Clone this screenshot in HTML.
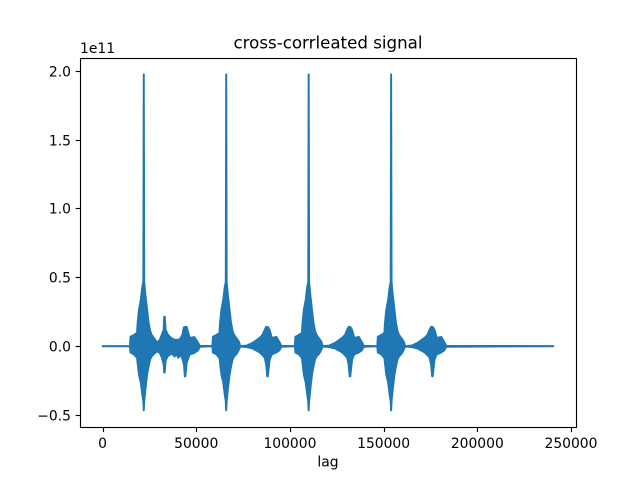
<!DOCTYPE html>
<html>
<head>
<meta charset="utf-8">
<title>cross-corrleated signal</title>
<style>
html,body{margin:0;padding:0;background:#fff;width:640px;height:480px;overflow:hidden}
svg{display:block}
text{font-family:"DejaVu Sans","Liberation Sans",sans-serif;fill:#000}
</style>
</head>
<body>
<svg id="chart" xmlns="http://www.w3.org/2000/svg" width="640" height="480" viewBox="0 0 640 480">
<rect x="0" y="0" width="640" height="480" fill="#fff"/>
<g id="series"></g>
<g id="ticks"></g>
<rect x="80.5" y="58.5" width="496" height="369" fill="none" stroke="#000" stroke-width="1.11"/>
<text x="328" y="48.5" font-size="16.67" text-anchor="middle">cross-corrleated signal</text>
<text x="328" y="466.5" font-size="13.89" text-anchor="middle">lag</text>
<text x="80" y="52.8" font-size="13.89">1e11</text>
</svg>
<script>
const lags = [
  0,
  14500,14800,16700,18300,18600,19300,20300,21100,21650,21870,22130,22350,23000,23900,24700,25500,26300,27800,28900,29500,
  30500,31500,32500,32800,33300,33800,35000,37000,38500,39500,40500,41500,42500,43300,43800,44300,45000,45900,46500,49000,51000,51900,
  58500,58800,60700,62300,62600,63300,64300,65100,65650,65870,66130,66350,67000,67900,68700,69500,70300,71800,72900,73500,
  74000,77000,80000,83800,85300,86400,87200,87800,88300,89300,90400,92800,94400,95500,
  102500,102800,104700,106300,106600,107300,108300,109100,109650,109870,110130,110350,111000,111900,112700,113500,114300,115800,116900,117500,
  118000,121000,124000,127800,129300,130400,131200,131800,132300,133300,134400,136800,138400,139500,
  146500,146800,148700,150300,150600,151300,152300,153100,153650,153870,154130,154350,155000,155900,156700,157500,158300,159800,160900,161500,
  162000,165000,168000,171800,173300,174400,175200,175800,176300,177300,178400,180800,182400,183500,
  240640
];
const upperValues = [
  .004,
  .004,.071,.085,.10,.172,.266,.338,.432,.469,1.977,1.977,.469,.375,.266,.172,.114,.085,.056,.035,.035,
  .05,.085,.121,.218,.218,.12,.085,.06,.05,.05,.05,.06,.085,.14,.143,.143,.143,.10,.064,.07,.03,.006,
  .004,.071,.085,.10,.172,.266,.338,.432,.469,1.977,1.977,.469,.375,.266,.172,.114,.085,.056,.035,.006,
  .004,.008,.027,.064,.085,.121,.143,.143,.143,.121,.064,.071,.035,.006,
  .004,.071,.085,.10,.172,.266,.338,.432,.469,1.977,1.977,.469,.375,.266,.172,.114,.085,.056,.035,.006,
  .004,.008,.027,.064,.085,.121,.143,.143,.143,.121,.064,.071,.035,.006,
  .004,.071,.085,.10,.172,.266,.338,.432,.469,1.977,1.977,.469,.375,.266,.172,.114,.085,.056,.035,.006,
  .004,.008,.027,.064,.085,.121,.143,.143,.143,.121,.064,.071,.035,.006,
  .004
];
const lowerValues = [
  0,
  0,-.045,-.059,-.085,-.12,-.204,-.262,-.349,-.399,-.465,-.465,-.399,-.312,-.204,-.146,-.095,-.074,-.052,-.04,-.04,
  -.05,-.08,-.13,-.19,-.19,-.10,-.07,-.055,-.075,-.06,-.085,-.06,-.09,-.13,-.218,-.218,-.12,-.085,-.06,-.05,-.03,-.004,
  0,-.045,-.059,-.085,-.12,-.204,-.262,-.349,-.399,-.465,-.465,-.399,-.312,-.204,-.146,-.095,-.074,-.052,-.023,-.004,
  -.002,-.006,-.016,-.045,-.065,-.081,-.13,-.218,-.218,-.095,-.059,-.045,-.03,-.004,
  0,-.045,-.059,-.085,-.12,-.204,-.262,-.349,-.399,-.465,-.465,-.399,-.312,-.204,-.146,-.095,-.074,-.052,-.023,-.004,
  -.002,-.006,-.016,-.045,-.065,-.081,-.13,-.218,-.218,-.095,-.059,-.045,-.03,-.004,
  0,-.045,-.059,-.085,-.12,-.204,-.262,-.349,-.399,-.465,-.465,-.399,-.312,-.204,-.146,-.095,-.074,-.052,-.023,-.004,
  -.002,-.006,-.016,-.045,-.065,-.081,-.13,-.218,-.218,-.095,-.059,-.045,-.03,-.004,
  0
];
const xTickValues = [0,50000,100000,150000,200000,250000];
const yTickValues = [-0.5,0,0.5,1,1.5,2];
const yTickLabels = ["\u22120.5","0.0","0.5","1.0","1.5","2.0"];

const NS = "http://www.w3.org/2000/svg";
const axLeft = 80, axRight = 576, axTop = 57.6, axBottom = 427.2;
const xMin = -12032, xMax = 252672, yMin = -0.5868, yMax = 2.099;
function xScale(v){ return axLeft + (v - xMin) / (xMax - xMin) * (axRight - axLeft); }
function yScale(v){ return axBottom - (v - yMin) / (yMax - yMin) * (axBottom - axTop); }

const seriesLayer = document.getElementById("series");
const tickLayer = document.getElementById("ticks");

const pts = [];
lags.forEach((l,i)=>pts.push(xScale(l).toFixed(2)+","+yScale(upperValues[i]).toFixed(2)));
for(let i=lags.length-1;i>=0;i--){ pts.push(xScale(lags[i]).toFixed(2)+","+yScale(lowerValues[i]).toFixed(2)); }
const poly = document.createElementNS(NS,"polygon");


poly.setAttribute("points", pts.join(" "));
poly.setAttribute("fill", "#1f77b4");
poly.setAttribute("stroke", "#1f77b4");
poly.setAttribute("stroke-width", "1.5");
poly.setAttribute("stroke-linejoin", "round");
seriesLayer.appendChild(poly);

xTickValues.forEach(function(v){
  const x = xScale(v);
  const sx = Math.round(x) + 0.5;
  const t = document.createElementNS(NS,"line");
  
  
  t.setAttribute("x1",sx); t.setAttribute("x2",sx);
  t.setAttribute("y1",427.5); t.setAttribute("y2",432.06);
  t.setAttribute("stroke","#000"); t.setAttribute("stroke-width","1.11");
  tickLayer.appendChild(t);
  const l = document.createElementNS(NS,"text");
  
  
  l.setAttribute("x",x); l.setAttribute("y",448);
  l.setAttribute("font-size","13.89"); l.setAttribute("text-anchor","middle");
  l.textContent = String(v);
  tickLayer.appendChild(l);
});

yTickValues.forEach(function(v,i){
  const y = yScale(v);
  const sy = Math.floor(y) + 0.5;
  const t = document.createElementNS(NS,"line");
  
  
  t.setAttribute("x1",axLeft-4.36); t.setAttribute("x2",axLeft+0.5);
  t.setAttribute("y1",sy); t.setAttribute("y2",sy);
  t.setAttribute("stroke","#000"); t.setAttribute("stroke-width","1.11");
  tickLayer.appendChild(t);
  const l = document.createElementNS(NS,"text");
  
  
  l.setAttribute("x",axLeft-9); l.setAttribute("y",sy+5.1);
  l.setAttribute("font-size","13.89"); l.setAttribute("text-anchor","end");
  l.textContent = yTickLabels[i];
  tickLayer.appendChild(l);
});
</script>
</body>
</html>
